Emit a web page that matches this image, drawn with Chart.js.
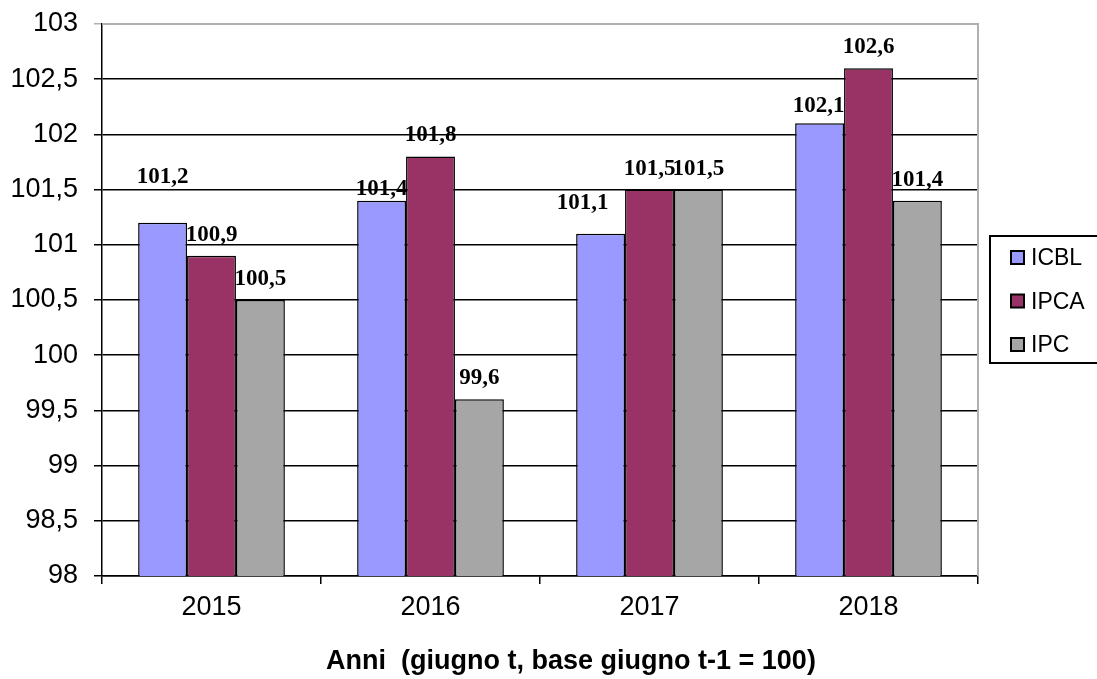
<!DOCTYPE html>
<html>
<head>
<meta charset="utf-8">
<script src="https://cdn.jsdelivr.net/npm/chart.js@4.4.1/dist/chart.umd.min.js"></script>
<style>
  html, body { margin:0; padding:0; background:#fff; }
  #wrap { width:1097px; height:679px; position:relative; }
</style>
</head>
<body>
<div id="wrap"><canvas id="chart"></canvas></div>
<script>
// ── Data ──
const years = ['2015', '2016', '2017', '2018'];
const icbl  = [101.2, 101.4, 101.1, 102.1];
const ipca  = [100.9, 101.8, 101.5, 102.6];
const ipc   = [100.5, 99.6, 101.5, 101.4];
const seriesNames  = ['ICBL', 'IPCA', 'IPC'];
const seriesColors = ['#9999ff', '#993366', '#a6a6a6'];

const fmt = v => String(v).replace('.', ',');

// ── Value labels above bars (Excel-like placement) ──
const labelNudge = { '0-0': [0, -25], '0-1': [0, 9], '0-2': [-18, -10], '0-3': [-1, 4] };
const valueLabels = {
  id: 'valueLabels',
  afterDatasetsDraw(chart){
    const ctx = chart.ctx;
    ctx.save();
    ctx.font = 'bold 23px "Liberation Serif", "Times New Roman", serif';
    ctx.fillStyle = '#000';
    ctx.textAlign = 'center';
    ctx.textBaseline = 'middle';
    chart.data.datasets.forEach((ds, i) => {
      chart.getDatasetMeta(i).data.forEach((bar, j) => {
        const n = labelNudge[i + '-' + j] || [0, 0];
        ctx.fillText(fmt(ds.data[j]), bar.x + n[0], bar.y - 21 + n[1]);
      });
    });
    ctx.restore();
  }
};

// ── Plot border, axis title, boxed legend ──
const decorations = {
  id: 'decorations',
  beforeDatasetsDraw(chart){
    const { ctx, chartArea: a } = chart;
    ctx.save();
    ctx.strokeStyle = '#b0b0b0';
    ctx.lineWidth = 2;
    ctx.beginPath();
    ctx.moveTo(a.left, a.top);
    ctx.lineTo(a.right, a.top);
    ctx.lineTo(a.right, a.bottom);
    ctx.stroke();
    ctx.restore();
  },
  afterDraw(chart){
    const ctx = chart.ctx;
    ctx.save();
    ctx.fillStyle = '#000';
    ctx.font = 'bold 27px "Liberation Sans", Arial, sans-serif';
    ctx.textAlign = 'center';
    ctx.textBaseline = 'middle';
    ctx.fillText('Anni  (giugno t, base giugno t-1 = 100)', 571, 662);

    // legend
    ctx.strokeStyle = '#000';
    ctx.lineWidth = 2;
    ctx.strokeRect(990, 236, 120, 127);
    ctx.font = '23px "Liberation Sans", Arial, sans-serif';
    ctx.textAlign = 'left';
    seriesNames.forEach((name, i) => {
      const y = 258 + i * 43.5;
      ctx.fillStyle = seriesColors[i];
      ctx.fillRect(1011, y - 7, 13, 13);
      ctx.strokeRect(1011, y - 7, 13, 13);
      ctx.fillStyle = '#000';
      ctx.fillText(name, 1031, y + 1);
    });
    ctx.restore();
  }
};

const allSeries = [icbl, ipca, ipc];
new Chart(document.getElementById('chart'), {
  type: 'bar',
  data: {
    labels: years,
    datasets: allSeries.map((d, i) => ({
      label: seriesNames[i],
      data: d,
      backgroundColor: seriesColors[i],
      borderColor: '#000',
      borderWidth: 1.5,
      borderSkipped: false,
      categoryPercentage: 0.67,
      barPercentage: 1.0
    }))
  },
  options: {
    responsive: true,
    maintainAspectRatio: false,
    animation: false,
    layout: { padding: { top: 24, right: 119, left: 0, bottom: 0 } },
    plugins: { legend: { display: false }, tooltip: { enabled: false } },
    scales: {
      x: {
        afterFit: s => { s.height = 103; s.paddingLeft = 0; s.paddingRight = 0; },
        grid: { offset: true, drawOnChartArea: false, drawTicks: true, tickLength: 8, color: '#000', lineWidth: 1.5 },
        border: { color: '#000', width: 1.5 },
        ticks: { color: '#000', padding: 7, font: { family: '"Liberation Sans", Arial, sans-serif', size: 27 } }
      },
      y: {
        min: 98,
        max: 103,
        afterFit: s => { s.width = 102; s.paddingTop = 0; s.paddingBottom = 0; },
        grid: {
          color: ctx => ctx.tick && ctx.tick.value === 103 ? '#b0b0b0' : '#000',
          lineWidth: 1.5,
          tickLength: 8
        },
        border: { color: '#000', width: 1.5 },
        ticks: {
          stepSize: 0.5,
          color: '#000',
          padding: 16,
          font: { family: '"Liberation Sans", Arial, sans-serif', size: 27 },
          callback: v => fmt(v)
        }
      }
    }
  },
  plugins: [valueLabels, decorations]
});
</script>
</body>
</html>
